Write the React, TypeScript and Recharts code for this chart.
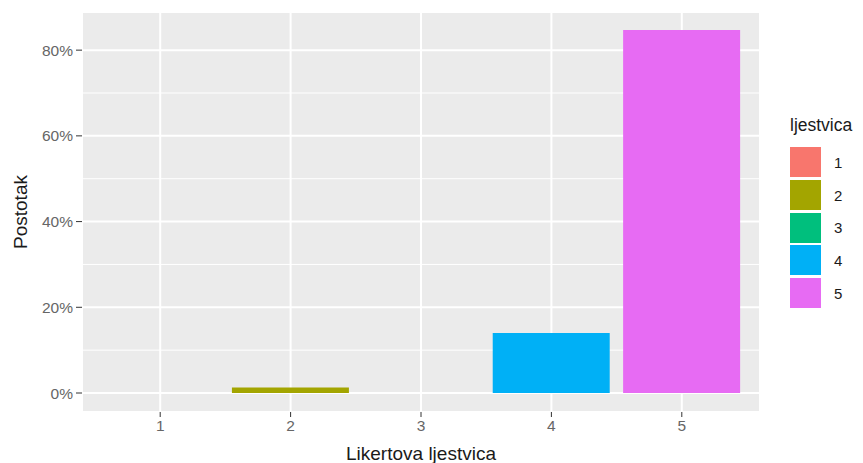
import { BarChart, Bar, XAxis, YAxis, CartesianGrid, Cell } from 'recharts'

const categories = ['1', '2', '3', '4', '5']
const percentages = [0, 1.3, 0, 14.0, 84.7]
const colors = ['#F8766D', '#A3A500', '#00BF7D', '#00B0F6', '#E76BF3']
const yTicks = [0, 20, 40, 60, 80]
const yMinor = [10, 30, 50, 70]

const FONT = '"Liberation Sans", Arial, sans-serif'

export default function App() {
  const data = categories.map((c, i) => ({ name: c, value: percentages[i] }))

  return (
    <div
      style={{
        position: 'absolute',
        left: 0,
        top: 0,
        width: 863,
        height: 463,
        background: '#fff',
        fontFamily: FONT,
      }}
    >
      <BarChart
        width={760}
        height={463}
        data={data}
        margin={{ top: 12, right: 0, bottom: 0, left: 0 }}
        barCategoryGap="5%"
      >
        <CartesianGrid
          fill="#EBEBEB"
          stroke="#fff"
          strokeWidth={1}
          vertical={false}
          horizontalValues={yMinor}
        />
        <CartesianGrid stroke="#fff" strokeWidth={2} />
        <XAxis
          dataKey="name"
          height={51}
          padding={{ left: 13, right: 13 }}
          axisLine={false}
          tickSize={5}
          tickMargin={3}
          tickLine={{ stroke: '#333' }}
          tick={{ fill: '#666', fontSize: 15.5, fontFamily: FONT }}
          label={{
            value: 'Likertova ljestvica',
            position: 'insideBottom',
            offset: 3,
            style: { fontSize: 19, fill: '#1a1a1a', fontFamily: FONT },
          }}
        />
        <YAxis
          type="number"
          domain={[-4.43, 88.9]}
          allowDataOverflow
          ticks={yTicks}
          tickFormatter={(v) => `${v}%`}
          width={82}
          axisLine={false}
          tickSize={6}
          tickMargin={3}
          tickLine={{ stroke: '#333' }}
          tick={{ fill: '#666', fontSize: 15.5, fontFamily: FONT }}
          label={{
            value: 'Postotak',
            angle: -90,
            position: 'insideLeft',
            offset: 20,
            style: { textAnchor: 'middle', fontSize: 19, fill: '#1a1a1a', fontFamily: FONT },
          }}
        />
        <Bar dataKey="value" isAnimationActive={false}>
          {data.map((_, i) => (
            <Cell key={i} fill={colors[i]} />
          ))}
        </Bar>
      </BarChart>

      {/* legend, ggplot style */}
      <div style={{ position: 'absolute', left: 790, top: 115, color: '#1a1a1a' }}>
        <div style={{ fontSize: 17.5, lineHeight: '20px', marginBottom: 11 }}>ljestvica</div>
        {categories.map((c, i) => (
          <div key={c} style={{ display: 'flex', alignItems: 'center', height: 32.7 }}>
            <div style={{ width: 31, height: 30, background: colors[i] }} />
            <span style={{ fontSize: 15, marginLeft: 13 }}>{c}</span>
          </div>
        ))}
      </div>
    </div>
  )
}
